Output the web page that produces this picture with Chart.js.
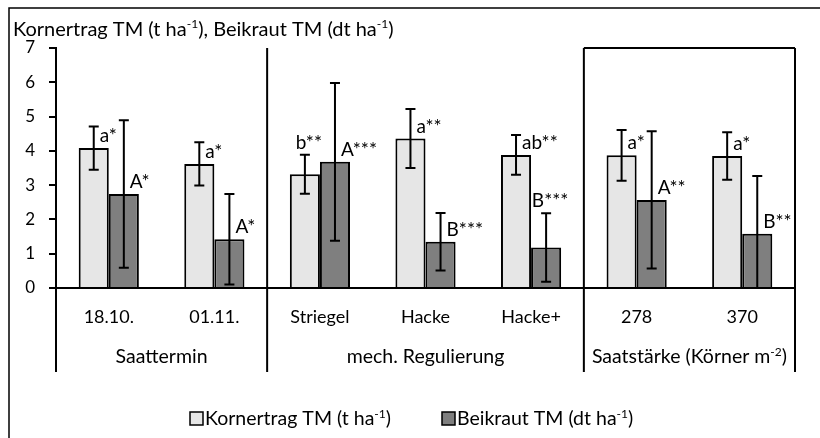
<!DOCTYPE html>
<html>
<head>
<meta charset="utf-8">
<script src="https://cdn.jsdelivr.net/npm/chart.js@4"></script>
<style>
  html, body { margin: 0; padding: 0; background: #fff; }
</style>
</head>
<body>
<canvas id="chart" width="820" height="438"></canvas>
<script>
// Daten
var categories = ['18.10.', '01.11.', 'Striegel', 'Hacke', 'Hacke+', '278', '370'];
var groupNames = ['Saattermin', 'mech. Regulierung', 'Saatstärke (Körner m{-2})'];
var groupSizes = [2, 3, 2];

var kornertrag = [4.08, 3.62, 3.32, 4.36, 3.88, 3.87, 3.85];
var kornertragSd = [0.63, 0.63, 0.57, 0.86, 0.58, 0.74, 0.69];
var kornertragSig = ['a*', 'a*', 'b**', 'a**', 'ab**', 'a*', 'a*'];

var beikraut = [2.74, 1.42, 3.68, 1.35, 1.18, 2.57, 1.58];
var beikrautSd = [2.15, 1.32, 2.30, 0.84, 1.00, 2.00, 1.69];
var beikrautSig = ['A*', 'A*', 'A***', 'B***', 'B***', 'A**', 'B**'];

var yMin = 0, yMax = 7, yStep = 1;
var yTitle = 'Kornertrag TM (t ha{-1}), Beikraut TM (dt ha{-1})';

var FONT = 'Lato, "Open Sans", sans-serif';

// Text mit Hochstellung: "m{-2}"
var richText = function (ctx, str, x, y, size, align) {
    var parts = str.split(/(\{[^}]*\})/).filter(function (p) { return p.length; });
    var items = parts.map(function (p) {
        var sup = p.charAt(0) === '{';
        return { t: sup ? p.slice(1, -1) : p, sup: sup };
    });
    var w = 0;
    items.forEach(function (it) {
        ctx.font = (it.sup ? Math.round(size * 0.62) : size) + 'px ' + FONT;
        it.w = ctx.measureText(it.t).width;
        w += it.w;
    });
    var cx = x;
    if (align === 'center') cx = x - w / 2;
    ctx.textAlign = 'left';
    ctx.textBaseline = 'alphabetic';
    items.forEach(function (it) {
        ctx.font = (it.sup ? Math.round(size * 0.62) : size) + 'px ' + FONT;
        ctx.fillText(it.t, cx, it.sup ? y - size * 0.38 : y);
        cx += it.w;
    });
    return w;
};

// Sonderfall: Label über dem Fehlerbalken
var labelAbove = [[2], [4]];

var extras = {
    id: 'extras',
    beforeDraw: function (chart) {
        var ctx = chart.ctx;
        ctx.save();
        ctx.fillStyle = '#fff';
        ctx.fillRect(0, 0, chart.width, chart.height);
        ctx.strokeStyle = '#000';
        ctx.lineWidth = 1.5;
        ctx.beginPath();
        ctx.moveTo(9, chart.height + 2);
        ctx.lineTo(9, 8);
        ctx.lineTo(chart.width + 2, 8);
        ctx.stroke();
        ctx.restore();
    },
    afterDatasetsDraw: function (chart) {
        var ctx = chart.ctx;
        var ys = chart.scales.y;
        ctx.save();
        chart.data.datasets.forEach(function (ds, di) {
            var meta = chart.getDatasetMeta(di);
            meta.data.forEach(function (bar, i) {
                var v = ds.data[i], sd = ds.sd[i];
                var lo = Math.max(yMin, v - sd);
                var yt = ys.getPixelForValue(v + sd);
                var yb = ys.getPixelForValue(lo);
                ctx.strokeStyle = '#000';
                ctx.lineWidth = 2;
                ctx.beginPath();
                ctx.moveTo(bar.x, yt);
                ctx.lineTo(bar.x, yb);
                ctx.moveTo(bar.x - 5, yt);
                ctx.lineTo(bar.x + 5, yt);
                if (v - sd > yMin) {
                    ctx.moveTo(bar.x - 5, yb);
                    ctx.lineTo(bar.x + 5, yb);
                }
                ctx.stroke();

                // Signifikanz
                ctx.fillStyle = '#000';
                ctx.font = '19px ' + FONT;
                ctx.textBaseline = 'alphabetic';
                if (labelAbove[di].indexOf(i) >= 0) {
                    ctx.textAlign = 'center';
                    ctx.fillText(ds.sig[i], bar.x + 4, yt - 6);
                } else {
                    ctx.textAlign = 'left';
                    ctx.fillText(ds.sig[i], bar.x + 6, bar.y - 6);
                }
            });
        });
        ctx.restore();
    },
    afterDraw: function (chart) {
        var ctx = chart.ctx;
        var xs = chart.scales.x, ys = chart.scales.y;
        var area = chart.chartArea;
        var y0 = ys.getPixelForValue(yMin);
        var bottom = 372;
        ctx.save();
        ctx.strokeStyle = '#000';
        ctx.lineWidth = 2;

        // x-Achse
        ctx.beginPath();
        ctx.moveTo(area.left, y0);
        ctx.lineTo(area.right, y0);
        ctx.stroke();

        // Gruppengrenzen
        var bounds = [area.left];
        var idx = 0;
        groupSizes.forEach(function (n) {
            idx += n;
            if (idx >= categories.length) bounds.push(area.right);
            else bounds.push((xs.getPixelForValue(idx - 1) + xs.getPixelForValue(idx)) / 2);
        });
        ctx.beginPath();
        bounds.forEach(function (bx) {
            ctx.moveTo(bx, area.top);
            ctx.lineTo(bx, bottom);
        });
        // Rahmen oben über der letzten Gruppe
        ctx.moveTo(bounds[bounds.length - 2], area.top);
        ctx.lineTo(area.right, area.top);
        ctx.stroke();

        // Kategorien
        ctx.fillStyle = '#000';
        ctx.font = '18px ' + FONT;
        ctx.textAlign = 'center';
        ctx.textBaseline = 'alphabetic';
        categories.forEach(function (c, i) {
            ctx.fillText(c, xs.getPixelForValue(i), 323);
        });
        groupNames.forEach(function (g, i) {
            richText(ctx, g, (bounds[i] + bounds[i + 1]) / 2, 363, 19.5, 'center');
        });

        // Achsentitel
        richText(ctx, yTitle, 13, 36, 20, 'left');

        // Legende
        var lx = [190, 442];
        chart.data.datasets.forEach(function (ds, di) {
            ctx.fillStyle = ds.backgroundColor;
            ctx.fillRect(lx[di], 412, 13, 13);
            ctx.lineWidth = 1.5;
            ctx.strokeRect(lx[di], 412, 13, 13);
            ctx.fillStyle = '#000';
            richText(ctx, ds.label, lx[di] + 15, 425, 19.5, 'left');
        });
        ctx.restore();
    }
};

new Chart(document.getElementById('chart'), {
    type: 'bar',
    data: {
        labels: categories,
        datasets: [{
            label: 'Kornertrag TM (t ha{-1})',
            data: kornertrag,
            sd: kornertragSd,
            sig: kornertragSig,
            backgroundColor: '#e6e6e6',
            borderColor: '#000',
            borderWidth: 2,
            categoryPercentage: 0.57,
            barPercentage: 1
        }, {
            label: 'Beikraut TM (dt ha{-1})',
            data: beikraut,
            sd: beikrautSd,
            sig: beikrautSig,
            backgroundColor: '#7f7f7f',
            borderColor: '#000',
            borderWidth: 2,
            categoryPercentage: 0.57,
            barPercentage: 1
        }]
    },
    options: {
        responsive: false,
        animation: false,
        layout: {
            padding: { left: 0, right: 25, top: 48, bottom: 150 }
        },
        plugins: {
            legend: { display: false },
            tooltip: { enabled: false }
        },
        scales: {
            x: {
                display: false,
                offset: true
            },
            y: {
                min: yMin,
                max: yMax,
                ticks: {
                    stepSize: yStep,
                    padding: 14,
                    color: '#000',
                    font: { family: FONT, size: 17 }
                },
                grid: {
                    drawOnChartArea: false,
                    tickLength: 7,
                    color: '#000',
                    lineWidth: 2
                },
                border: { color: '#000', width: 2 },
                afterFit: function (scale) { scale.width = 56; }
            }
        }
    },
    plugins: [extras]
});
</script>
</body>
</html>
